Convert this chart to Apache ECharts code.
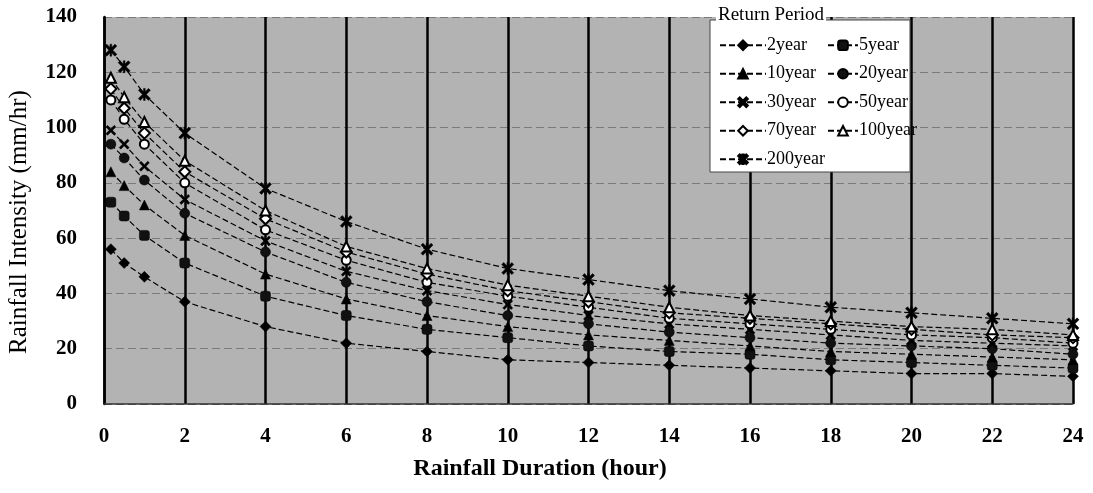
<!DOCTYPE html>
<html>
<head>
<meta charset="utf-8">
<script src="https://cdn.jsdelivr.net/npm/echarts@6/dist/echarts.min.js"></script>
<style>html,body{margin:0;padding:0;background:#fff}#c{width:1093px;height:493px}</style>
</head>
<body>
<div id="c"></div>
<script>
// Rainfall duration (hours)
const durations = [0.17, 0.5, 1, 2, 4, 6, 8, 10, 12, 14, 16, 18, 20, 22, 24];
// Rainfall intensity (mm/hr) by return period
const y2year   = [56, 51, 46, 37, 28, 22, 19, 16, 15, 14, 13, 12, 11, 11, 10];
const y5year   = [73, 68, 61, 51, 39, 32, 27, 24, 21, 19, 18, 16, 15, 14, 13];
const y10year  = [84, 79, 72, 61, 47, 38, 32, 28, 25, 23, 21, 19, 18, 17, 16];
const y20year  = [94, 89, 81, 69, 55, 44, 37, 32, 29, 26, 24, 22, 21, 20, 18];
const y30year  = [99, 94, 86, 74, 59, 48, 41, 36, 32, 29, 27, 25, 23, 22, 21];
const y50year  = [110, 103, 94, 80, 63, 52, 44, 39, 35, 31, 29, 27, 25, 24, 22];
const y70year  = [114, 107, 98, 84, 67, 55, 47, 41, 37, 33, 31, 29, 27, 25, 24];
const y100year = [118, 111, 102, 88, 70, 57, 49, 43, 39, 35, 32, 30, 28, 27, 25];
const y200year = [128, 122, 112, 98, 78, 66, 56, 49, 45, 41, 38, 35, 33, 31, 29];
const seriesNames = ['2year', '5year', '10year', '20year', '30year', '50year', '70year', '100year', '200year'];
const xTicks = [0, 2, 4, 6, 8, 10, 12, 14, 16, 18, 20, 22, 24];
const yTicks = [0, 20, 40, 60, 80, 100, 120, 140];

const FONT = '"Liberation Serif", "DejaVu Serif", serif';
const X_SYM = 'path://M0,1.6 L1.6,0 L5,3.4 L8.4,0 L10,1.6 L6.6,5 L10,8.4 L8.4,10 L5,6.6 L1.6,10 L0,8.4 L3.4,5 Z';
const AST_SYM = 'path://M0,1.6 L1.6,0 L5,3.4 L8.4,0 L10,1.6 L6.6,5 L10,8.4 L8.4,10 L5,6.6 L1.6,10 L0,8.4 L3.4,5 Z M4.3,0 L5.7,0 L5.7,10 L4.3,10 Z';

const styles = {
  '2year':   {symbol: 'diamond',   size: 11, fill: '#000'},
  '5year':   {symbol: 'roundRect', size: 10, fill: '#111'},
  '10year':  {symbol: 'triangle',  size: 10, fill: '#000'},
  '20year':  {symbol: 'circle',    size: 10, fill: '#111'},
  '30year':  {symbol: X_SYM,       size: 10, fill: '#000'},
  '50year':  {symbol: 'circle',    size: 9,  fill: '#fff', open: true},
  '70year':  {symbol: 'diamond',   size: 11, fill: '#fff', open: true},
  '100year': {symbol: 'triangle',  size: 10, fill: '#fff', open: true},
  '200year': {symbol: AST_SYM,     size: 12, fill: '#000'}
};
const values = [y2year, y5year, y10year, y20year, y30year, y50year, y70year, y100year, y200year];

const series = seriesNames.map((name, i) => {
  const st = styles[name];
  return {
    name: name,
    type: 'line',
    data: durations.map((d, j) => [d, values[i][j]]),
    symbol: st.symbol,
    symbolSize: st.size,
    showAllSymbol: true,
    lineStyle: {color: '#000', width: 1.2, type: [6, 3]},
    itemStyle: {color: st.fill, borderColor: '#000', borderWidth: st.open ? 2 : 0.5},
    z: 2
  };
});

const chart = echarts.init(document.getElementById('c'), null, {renderer: 'canvas'});
const legendCommon = {
  orient: 'vertical',
  itemHeight: 12,
  itemGap: 10,
  textStyle: {fontFamily: FONT, fontSize: 18, color: '#000', lineHeight: 18.5, padding: [0, 0, 0, -4]},
  z: 6
};
chart.setOption({
  animation: false,
  backgroundColor: '#fff',
  grid: {left: 104, right: 20, top: 17, bottom: 89, show: true, backgroundColor: '#b3b3b3', borderWidth: 0},
  xAxis: {
    type: 'value', min: 0, max: 24, interval: 2,
    axisLine: {show: true, lineStyle: {color: '#333', width: 1.5}},
    axisTick: {show: false},
    splitLine: {show: true, lineStyle: {color: '#000', width: 2.5}},
    axisLabel: {fontFamily: FONT, fontSize: 21, fontWeight: 'bold', color: '#000', margin: 22,
      formatter: v => xTicks.indexOf(v) >= 0 ? String(v) : ''}
  },
  yAxis: {
    type: 'value', min: 0, max: 140, interval: 20,
    axisLine: {show: true, lineStyle: {color: '#000', width: 2.5}},
    axisTick: {show: false},
    splitLine: {show: true, lineStyle: {color: '#7a7a7a', width: 1, type: [8, 4]}},
    axisLabel: {fontFamily: FONT, fontSize: 21, fontWeight: 'bold', color: '#000', margin: 27,
      formatter: v => yTicks.indexOf(v) >= 0 ? String(v) : ''}
  },
  legend: [
    Object.assign({left: 714, top: 31, itemWidth: 46, data: ['2year', '10year', '30year', '70year', '200year']}, legendCommon),
    Object.assign({left: 822, top: 31, itemWidth: 30, data: ['5year', '20year', '50year', '100year']}, legendCommon)
  ],
  graphic: [
    {type: 'rect', shape: {x: 710, y: 20, width: 200, height: 152}, style: {fill: '#fff', stroke: '#444', lineWidth: 1}, z: 3},
    {type: 'text', x: 716, y: 5, style: {text: 'Return Period', font: '19px ' + FONT, fill: '#000', backgroundColor: '#fff', padding: [1, 2]}, z: 10},
    {type: 'text', x: 540, y: 469, style: {text: 'Rainfall Duration (hour)', font: 'bold 24px ' + FONT, fill: '#000', align: 'center', verticalAlign: 'middle'}},
    {type: 'text', x: 19, y: 222, rotation: Math.PI / 2, style: {text: 'Rainfall Intensity (mm/hr)', font: '25px ' + FONT, fill: '#000', align: 'center', verticalAlign: 'middle'}}
  ],
  series: series
});
</script>
</body>
</html>
